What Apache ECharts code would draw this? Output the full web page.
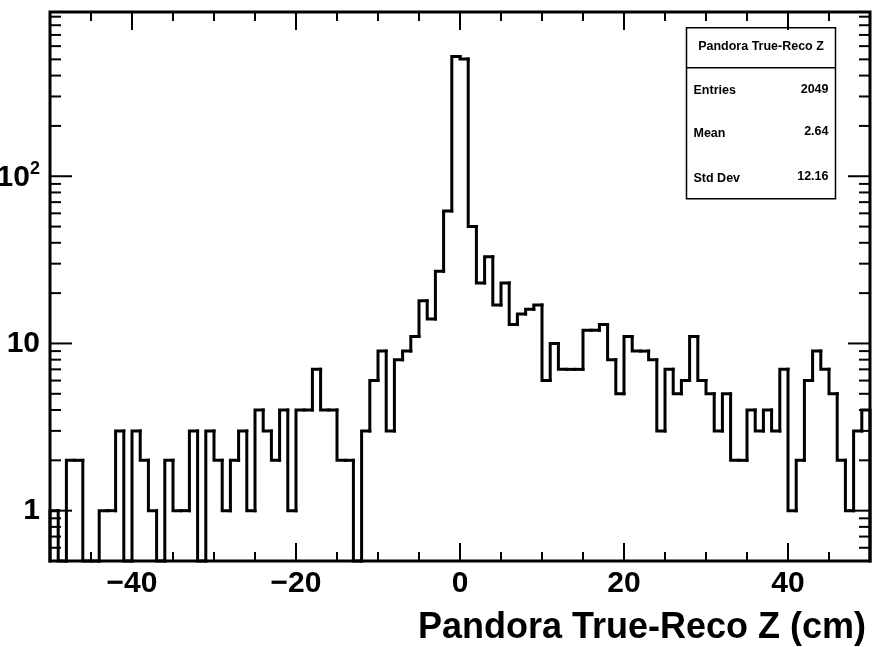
<!DOCTYPE html>
<html>
<head>
<meta charset="utf-8">
<script src="https://cdn.jsdelivr.net/npm/echarts@6/dist/echarts.min.js"></script>
<style>
html,body{margin:0;padding:0;background:#fff;}
#chart{width:876px;height:647px;}
</style>
</head>
<body>
<div id="chart"></div>
<script>
// ---- data ----
const binLowEdges = [-50,-49,-48,-47,-46,-45,-44,-43,-42,-41,-40,-39,-38,-37,-36,-35,-34,-33,-32,-31,
  -30,-29,-28,-27,-26,-25,-24,-23,-22,-21,-20,-19,-18,-17,-16,-15,-14,-13,-12,-11,
  -10,-9,-8,-7,-6,-5,-4,-3,-2,-1,0,1,2,3,4,5,6,7,8,9,
  10,11,12,13,14,15,16,17,18,19,20,21,22,23,24,25,26,27,28,29,
  30,31,32,33,34,35,36,37,38,39,40,41,42,43,44,45,46,47,48,49];
const binWidth = 1;
const counts = [1,0,2,2,0,0,1,1,3,0,3,2,1,0,2,1,1,3,0,3,
  2,1,2,3,1,4,3,2,4,1,4,4,7,4,4,2,2,0,3,6,
  9,3,8,9,11,18,14,27,62,520,502,50,23,33,17,23,13,15,16,17,
  6,10,7,7,7,12,12,13,8,5,11,9,9,8,3,7,5,6,11,6,
  5,3,5,2,2,4,3,4,3,7,1,2,6,9,7,5,2,1,3,4];
const xTickValues = [-40,-20,0,20,40];
const xTickLabels = ['\u221240','\u221220','0','20','40'];
const yTickValues = [1,10,100];
const yTickLabels = ['1','10','{m|10}{s|2}'];
const statTitle = 'Pandora True-Reco Z';
const statNames = ['Entries','Mean','Std Dev'];
const statValues = ['2049','2.64','12.16'];
const xTitle = 'Pandora True-Reco Z (cm)';

const X_MIN = -50, X_MAX = 50, Y_MIN = 0.5, Y_MAX = 960;
const FONT = '"Liberation Sans", Arial, Helvetica, sans-serif';

const histData = counts.map((c, i) => [binLowEdges[i], c, i > 0 ? counts[i - 1] : 0, i === counts.length - 1 ? 1 : 0]);

const chart = echarts.init(document.getElementById('chart'), null, {renderer: 'canvas'});

function histItem(params, api) {
  const cs = params.coordSys;
  const bottom = cs.y + cs.height;
  const x0v = api.value(0), c = api.value(1), pc = api.value(2), last = api.value(3);
  const x0 = api.coord([x0v, 1])[0];
  const x1 = api.coord([x0v + binWidth, 1])[0];
  const y = c > 0 ? api.coord([x0v, c])[1] : bottom;
  const py = pc > 0 ? api.coord([x0v, pc])[1] : bottom;
  const pts = [[x0, py], [x0, y], [x1, y]];
  if (last) pts.push([x1, bottom]);
  return {
    type: 'polyline',
    shape: {points: pts},
    style: {stroke: '#000', lineWidth: 3, fill: null, lineJoin: 'miter', lineCap: 'square'}
  };
}

function ticksItem(params, api) {
  const cs = params.coordSys;
  const left = cs.x, right = cs.x + cs.width, top = cs.y, bottom = cs.y + cs.height;
  const ch = [];
  const st = {stroke: '#000', lineWidth: 2};
  for (let v = X_MIN; v <= X_MAX; v += 5) {
    if (v === X_MIN || v === X_MAX) continue;
    const major = v % 20 === 0;
    const len = major ? 18 : 9;
    const x = api.coord([v, 1])[0];
    ch.push({type: 'line', shape: {x1: x, y1: bottom, x2: x, y2: bottom - len}, style: st});
    ch.push({type: 'line', shape: {x1: x, y1: top, x2: x, y2: top + len}, style: st});
  }
  for (let k = -1; k <= 2; k++) {
    for (let m = 1; m <= 9; m++) {
      const v = m * Math.pow(10, k);
      if (v <= Y_MIN || v >= Y_MAX) continue;
      const major = m === 1;
      const len = major ? 22 : 11;
      const y = api.coord([0, v])[1];
      ch.push({type: 'line', shape: {x1: left, y1: y, x2: left + len, y2: y}, style: st});
      ch.push({type: 'line', shape: {x1: right, y1: y, x2: right - len, y2: y}, style: st});
    }
  }
  return {type: 'group', children: ch};
}

const option = {
  animation: false,
  backgroundColor: '#fff',
  grid: {left: 50, right: 6, top: 12, bottom: 86, show: true, borderColor: '#000', borderWidth: 3,
         backgroundColor: 'transparent', containLabel: false, outerBoundsMode: 'none'},
  xAxis: {
    type: 'value', min: X_MIN, max: X_MAX, interval: 10,
    axisLine: {show: false}, axisTick: {show: false}, splitLine: {show: false},
    axisLabel: {
      color: '#000', fontSize: 30, fontWeight: 'bold', fontFamily: FONT, margin: 8,
      showMinLabel: true, showMaxLabel: true,
      formatter: v => { const i = xTickValues.indexOf(Math.round(v)); return i >= 0 && Math.abs(v - xTickValues[i]) < 1e-6 ? xTickLabels[i] : ''; }
    },
    name: xTitle, nameLocation: 'end', nameGap: -4,
    nameTextStyle: {color: '#000', fontSize: 36, fontWeight: 'bold', fontFamily: FONT, align: 'right', verticalAlign: 'top', padding: [49, 0, 0, 0]}
  },
  yAxis: {
    type: 'log', logBase: 10, min: Y_MIN, max: Y_MAX,
    axisLine: {show: false}, axisTick: {show: false}, splitLine: {show: false}, minorTick: {show: false},
    axisLabel: {
      color: '#000', fontSize: 30, fontWeight: 'bold', fontFamily: FONT, margin: 10,
      formatter: v => {
        for (let i = 0; i < yTickValues.length; i++) {
          if (Math.abs(v - yTickValues[i]) / yTickValues[i] < 1e-6) return yTickLabels[i];
        }
        return '';
      },
      rich: {
        m: {fontSize: 30, fontWeight: 'bold', fontFamily: FONT, color: '#000', verticalAlign: 'bottom'},
        s: {fontSize: 18, fontWeight: 'bold', fontFamily: FONT, color: '#000', verticalAlign: 'top', padding: [0, 0, 14, 0]}
      }
    }
  },
  series: [
    {type: 'custom', name: 'hist', renderItem: histItem, data: histData, clip: false, silent: true, z: 5,
     encode: {x: 0, y: 1}},
    {type: 'custom', name: 'ticks', renderItem: ticksItem, data: [[0, 1]], clip: false, silent: true, z: 6,
     encode: {x: 0, y: 1}}
  ],
  graphic: [{
    type: 'group', left: 684, top: 27, z: 100,
    children: [
      {type: 'rect', shape: {x: 0, y: 0, width: 149, height: 171}, style: {fill: '#fff', stroke: '#000', lineWidth: 1.5}},
      {type: 'line', shape: {x1: 0, y1: 40, x2: 149, y2: 40}, style: {stroke: '#000', lineWidth: 1.5}},
      {type: 'text', x: 74.5, y: 19, style: {text: statTitle, font: 'bold 12.5px ' + FONT, fill: '#000', align: 'center', verticalAlign: 'middle'}},
      {type: 'text', x: 7, y: 63, style: {text: statNames[0], font: 'bold 12.5px ' + FONT, fill: '#000', align: 'left', verticalAlign: 'middle'}},
      {type: 'text', x: 142, y: 62, style: {text: statValues[0], font: 'bold 12.5px ' + FONT, fill: '#000', align: 'right', verticalAlign: 'middle'}},
      {type: 'text', x: 7, y: 106, style: {text: statNames[1], font: 'bold 12.5px ' + FONT, fill: '#000', align: 'left', verticalAlign: 'middle'}},
      {type: 'text', x: 142, y: 104, style: {text: statValues[1], font: 'bold 12.5px ' + FONT, fill: '#000', align: 'right', verticalAlign: 'middle'}},
      {type: 'text', x: 7, y: 151, style: {text: statNames[2], font: 'bold 12.5px ' + FONT, fill: '#000', align: 'left', verticalAlign: 'middle'}},
      {type: 'text', x: 142, y: 149, style: {text: statValues[2], font: 'bold 12.5px ' + FONT, fill: '#000', align: 'right', verticalAlign: 'middle'}}
    ]
  }]
};
chart.setOption(option);
</script>
</body>
</html>
